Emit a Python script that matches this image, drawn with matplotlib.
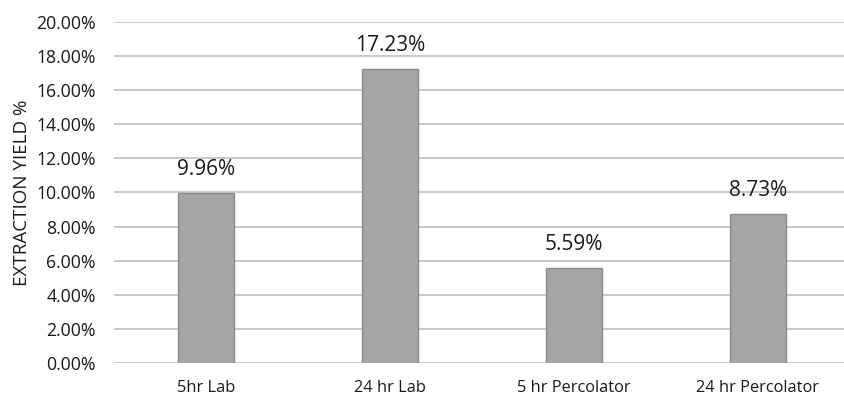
import matplotlib
matplotlib.use("Agg")
import matplotlib.pyplot as plt
from matplotlib.ticker import FuncFormatter

categories = ["5hr Lab", "24 hr Lab", "5 hr Percolator", "24 hr Percolator"]
yields = [9.96, 17.23, 5.59, 8.73]
labels = ["9.96%", "17.23%", "5.59%", "8.73%"]

plt.rcParams["font.family"] = ["Open Sans", "DejaVu Sans"]

fig = plt.figure(figsize=(8.44, 3.96), dpi=100)
ax = fig.add_axes([114 / 844, 1 - 363 / 396, 736 / 844, 341 / 396])

x = range(len(categories))
bars = ax.bar(x, yields, width=0.305, color="#A5A5A5", edgecolor="#8A8A8A",
              linewidth=1.0, zorder=3)

for b, v, t in zip(bars, yields, labels):
    ax.text(b.get_x() + b.get_width() / 2, v + 0.75, t, ha="center", va="bottom",
            fontsize=15, color="#1a1a1a")

ax.set_xlim(-0.5, 3.5)
ax.set_ylim(0, 20)
ax.set_yticks([0, 2, 4, 6, 8, 10, 12, 14, 16, 18, 20])
ax.yaxis.set_major_formatter(FuncFormatter(lambda v, p: f"{v:.2f}%"))
ax.set_xticks(list(x))
ax.set_xticklabels(categories)

ax.grid(axis="y", color="#C8C8C8", linewidth=1.4, zorder=0)
for s in ax.spines.values():
    s.set_visible(False)
ax.tick_params(axis="both", length=0, colors="#1a1a1a")
ax.tick_params(axis="y", pad=13, labelsize=12.7)
ax.tick_params(axis="x", pad=12, labelsize=11.8)

ax.set_ylabel("EXTRACTION YIELD %", fontsize=13.5, color="#1a1a1a", labelpad=4)

fig.savefig("out.png", dpi=100)
